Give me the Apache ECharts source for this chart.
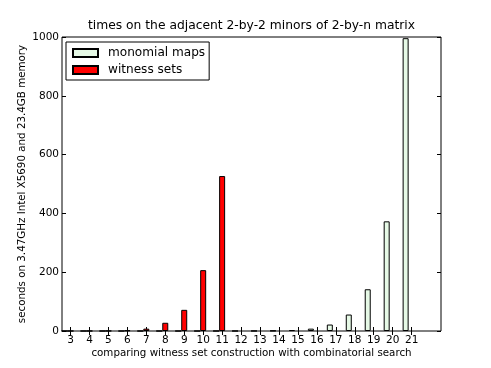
<!DOCTYPE html>
<html>
<head>
<meta charset="utf-8">
<script src="https://cdn.jsdelivr.net/npm/echarts@6/dist/echarts.min.js"></script>
<style>html,body{margin:0;padding:0;background:#fff;}#c{width:491px;height:368px;}</style>
</head>
<body>
<div id="c"></div>
<script>
// n values (2-by-n matrix)
const nValues = [3,4,5,6,7,8,9,10,11,12,13,14,15,16,17,18,19,20,21];
const witnessN = [3,4,5,6,7,8,9,10,11];
const witnessTimes = [0.1,0.2,0.5,2,8,28,72,207,527];
const monomialN = [3,4,5,6,7,8,9,10,11,12,13,14,15,16,17,18,19,20,21];
const monomialTimes = [0,0,0,0,0,0,0,0,0.01,0.05,0.3,1,3,8,22,56,142,373,996];
const yTicks = [0,200,400,600,800,1000];

const FONT = 'DejaVu Sans';
const chart = echarts.init(document.getElementById('c'), null, {renderer:'canvas'});
const toPairs = (xs, ys) => xs.map((x,i)=>[x, ys[i]]);
const edge = {borderColor:'#000', borderWidth:1};

chart.setOption({
  animation:false,
  textStyle:{fontFamily:FONT},
  title:{text:'times on the adjacent 2-by-2 minors of 2-by-n matrix', left:246.5, textAlign:'center', top:15,
    textStyle:{fontFamily:FONT, fontSize:12.3, fontWeight:'normal', color:'#000'}},
  grid:{left:62, right:50, top:37, bottom:37, show:true, borderColor:'#000', borderWidth:1, backgroundColor:'transparent'},
  legend:{
    data:['monomial maps','witness sets'], orient:'vertical', left:66, top:42,
    backgroundColor:'#fff', borderColor:'#000', borderWidth:1, padding:[5,4,4,6],
    itemWidth:25, itemHeight:8, itemGap:5, icon:'rect',
    textStyle:{fontFamily:FONT, fontSize:12.1, color:'#000', padding:[0,0,0,5]}
  },
  xAxis:[{
    type:'value', min:2.55, max:22.55, position:'bottom',
    name:'comparing witness set construction with combinatorial search',
    nameLocation:'middle', nameGap:22, nameMoveOverlap:false,
    nameTextStyle:{fontFamily:FONT, fontSize:10.3, color:'#000', verticalAlign:'middle'},
    axisLine:{show:false}, splitLine:{show:false},
    axisTick:{inside:true, length:4, customValues:nValues, lineStyle:{color:'#000'}},
    axisLabel:{customValues:nValues, fontFamily:FONT, fontSize:10.5, color:'#000', margin:4}
  },{
    type:'value', min:2.55, max:22.55, position:'top',
    axisLine:{show:false}, splitLine:{show:false},
    axisTick:{inside:true, length:4, customValues:nValues, lineStyle:{color:'#000'}},
    axisLabel:{show:false}
  }],
  yAxis:[{
    type:'value', min:0, max:1000, interval:200, position:'left',
    name:'seconds on 3.47GHz Intel X5690 and 23.4GB memory',
    nameLocation:'middle', nameGap:40, nameRotate:90, nameMoveOverlap:false,
    nameTextStyle:{fontFamily:FONT, fontSize:10.3, color:'#000', verticalAlign:'middle'},
    axisLine:{show:false}, splitLine:{show:false},
    axisTick:{inside:true, length:4, lineStyle:{color:'#000'}},
    axisLabel:{fontFamily:FONT, fontSize:10.5, color:'#000', margin:3,
      customValues:yTicks, formatter:(v)=>String(v)}
  },{
    type:'value', min:0, max:1000, interval:200, position:'right',
    axisLine:{show:false}, splitLine:{show:false},
    axisTick:{inside:true, length:4, lineStyle:{color:'#000'}},
    axisLabel:{show:false}
  }],
  series:[
    {name:'monomial maps', type:'bar', xAxisIndex:0, yAxisIndex:0, barWidth:6, barGap:'0%',
      itemStyle:Object.assign({color:'#e6f9e6'}, edge), data:toPairs(monomialN, monomialTimes)},
    {name:'witness sets', type:'bar', xAxisIndex:0, yAxisIndex:0, barWidth:6, barGap:'0%',
      itemStyle:Object.assign({color:'#ff0000'}, edge), data:toPairs(witnessN, witnessTimes)},
    {name:'_pad', type:'bar', xAxisIndex:0, yAxisIndex:0, barWidth:6, barGap:'0%', data:[]}
  ]
});
</script>
</body>
</html>
